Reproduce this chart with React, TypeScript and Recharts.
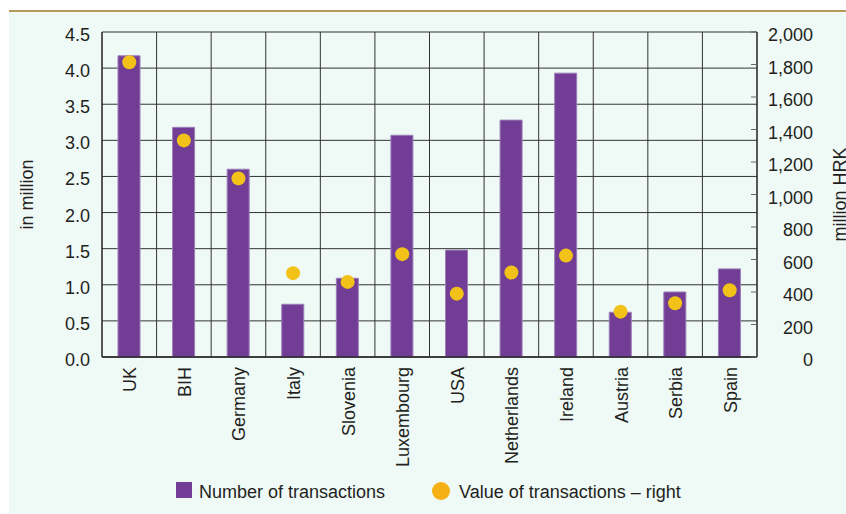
import { ComposedChart, Bar, Scatter, XAxis, YAxis, CartesianGrid, Legend } from 'recharts';

// Countries, number of transactions (in million, left) and value (million HRK, right)
const countries = ['UK', 'BIH', 'Germany', 'Italy', 'Slovenia', 'Luxembourg', 'USA', 'Netherlands', 'Ireland', 'Austria', 'Serbia', 'Spain'];
const transactions = [4.17, 3.18, 2.6, 0.73, 1.09, 3.07, 1.48, 3.28, 3.93, 0.62, 0.9, 1.22];
const values = [1814, 1333, 1099, 516, 462, 633, 390, 520, 624, 279, 331, 411];

const leftTicks = [0, 0.5, 1, 1.5, 2, 2.5, 3, 3.5, 4, 4.5];
const rightTicks = [0, 200, 400, 600, 800, 1000, 1200, 1400, 1600, 1800, 2000];

const data = countries.map((name, i) => ({ name, count: transactions[i], value: values[i] }));

const FONT = '"Liberation Sans Narrow", "Arial Narrow", "Liberation Sans", sans-serif';
const TEXT = '#231f20';
const PURPLE = '#723d94';
const YELLOW = '#f2c218';

const W = 846;
const H = 514;

const LeftTick = ({ x, y, payload }: any) => (
  <text x={x} y={y} dy={9} textAnchor="end" fontFamily={FONT} fontSize={18} fill={TEXT}>
    {payload.value.toFixed(1)}
  </text>
);

const RightTick = ({ x, y, payload }: any) => (
  <text x={x} y={y} dy={9} textAnchor="end" fontFamily={FONT} fontSize={18} fill={TEXT}>
    {payload.value.toLocaleString('en-US')}
  </text>
);

const CategoryTick = ({ x, y, payload }: any) => (
  <text
    x={x + 7}
    y={y}
    textAnchor="end"
    transform={`rotate(-90, ${x + 7}, ${y})`}
    fontFamily={FONT}
    fontSize={18}
    fill={TEXT}
  >
    {payload.value}
  </text>
);

const Dot = (props: any) => <circle cx={props.cx} cy={props.cy} r={7} fill={YELLOW} />;

const LegendContent = () => (
  <svg width={560} height={30}>
    <rect x={6} y={4} width={16} height={16} fill={PURPLE} />
    <text x={29} y={20} fontFamily={FONT} fontSize={18} fill={TEXT}>Number of transactions</text>
    <circle cx={271} cy={13} r={9} fill="#f4b014" />
    <text x={289} y={20} fontFamily={FONT} fontSize={18} fill={TEXT}>Value of transactions – right</text>
  </svg>
);

export default function App() {
  return (
    <div style={{ position: 'absolute', left: 0, top: 0, width: W, height: H, background: '#fff', overflow: 'hidden' }}>
      <div style={{ position: 'absolute', left: 9, top: 12, right: 0, bottom: 0, background: '#eff9f6' }} />
      <div style={{ position: 'absolute', left: 9, top: 10, right: 0, height: 2, background: '#b8995a' }} />
      <div style={{ position: 'absolute', left: 0, top: 0 }}>
        <ComposedChart width={W} height={H} data={data} margin={{ top: 32, right: 0, bottom: 0, left: 0 }}>
          <CartesianGrid
            stroke="#333"
            strokeWidth={1}
            horizontalValues={leftTicks}
            yAxisId="left"
            verticalCoordinatesGenerator={({ offset }: any) =>
              countries.slice(1).map((_, i) => offset.left + ((i + 1) * offset.width) / countries.length)
            }
          />
          <XAxis
            dataKey="name"
            height={157}
            interval={0}
            tickLine={false}
            tickSize={0}
            tickMargin={10}
            axisLine={{ stroke: '#222', strokeWidth: 1.5 }}
            tick={<CategoryTick />}
          />
          <YAxis
            yAxisId="left"
            width={102}
            domain={[0, 4.5]}
            ticks={leftTicks}
            tickLine={false}
            tickSize={0}
            tickMargin={12}
            axisLine={{ stroke: '#222', strokeWidth: 1.5 }}
            tick={<LeftTick />}
            label={({ viewBox }: any) => (
              <text
                x={33}
                y={viewBox.y + viewBox.height / 2}
                transform={`rotate(-90, 33, ${viewBox.y + viewBox.height / 2})`}
                textAnchor="middle"
                fontFamily={FONT}
                fontSize={18}
                fill={TEXT}
              >
                in million
              </text>
            )}
          />
          <YAxis
            yAxisId="right"
            orientation="right"
            width={89}
            domain={[0, 2000]}
            ticks={rightTicks}
            tickSize={-6}
            tickMargin={62}
            tickLine={{ stroke: '#666' }}
            axisLine={{ stroke: '#222', strokeWidth: 1.5 }}
            tick={<RightTick />}
            label={({ viewBox }: any) => (
              <text
                x={W}
                y={viewBox.y + viewBox.height / 2}
                transform={`rotate(-90, ${W}, ${viewBox.y + viewBox.height / 2})`}
                textAnchor="middle"
                fontFamily={FONT}
                fontSize={18}
                fill={TEXT}
              >
                million HRK
              </text>
            )}
          />
          <Legend verticalAlign="middle" wrapperStyle={{ top: 478, left: 170, width: 560 }} content={<LegendContent />} />
          <Bar yAxisId="left" dataKey="count" barSize={22} fill={PURPLE} stroke="#9b7db8" strokeWidth={1} isAnimationActive={false} />
          <Scatter yAxisId="right" dataKey="value" shape={<Dot />} isAnimationActive={false} />
        </ComposedChart>
      </div>
    </div>
  );
}
